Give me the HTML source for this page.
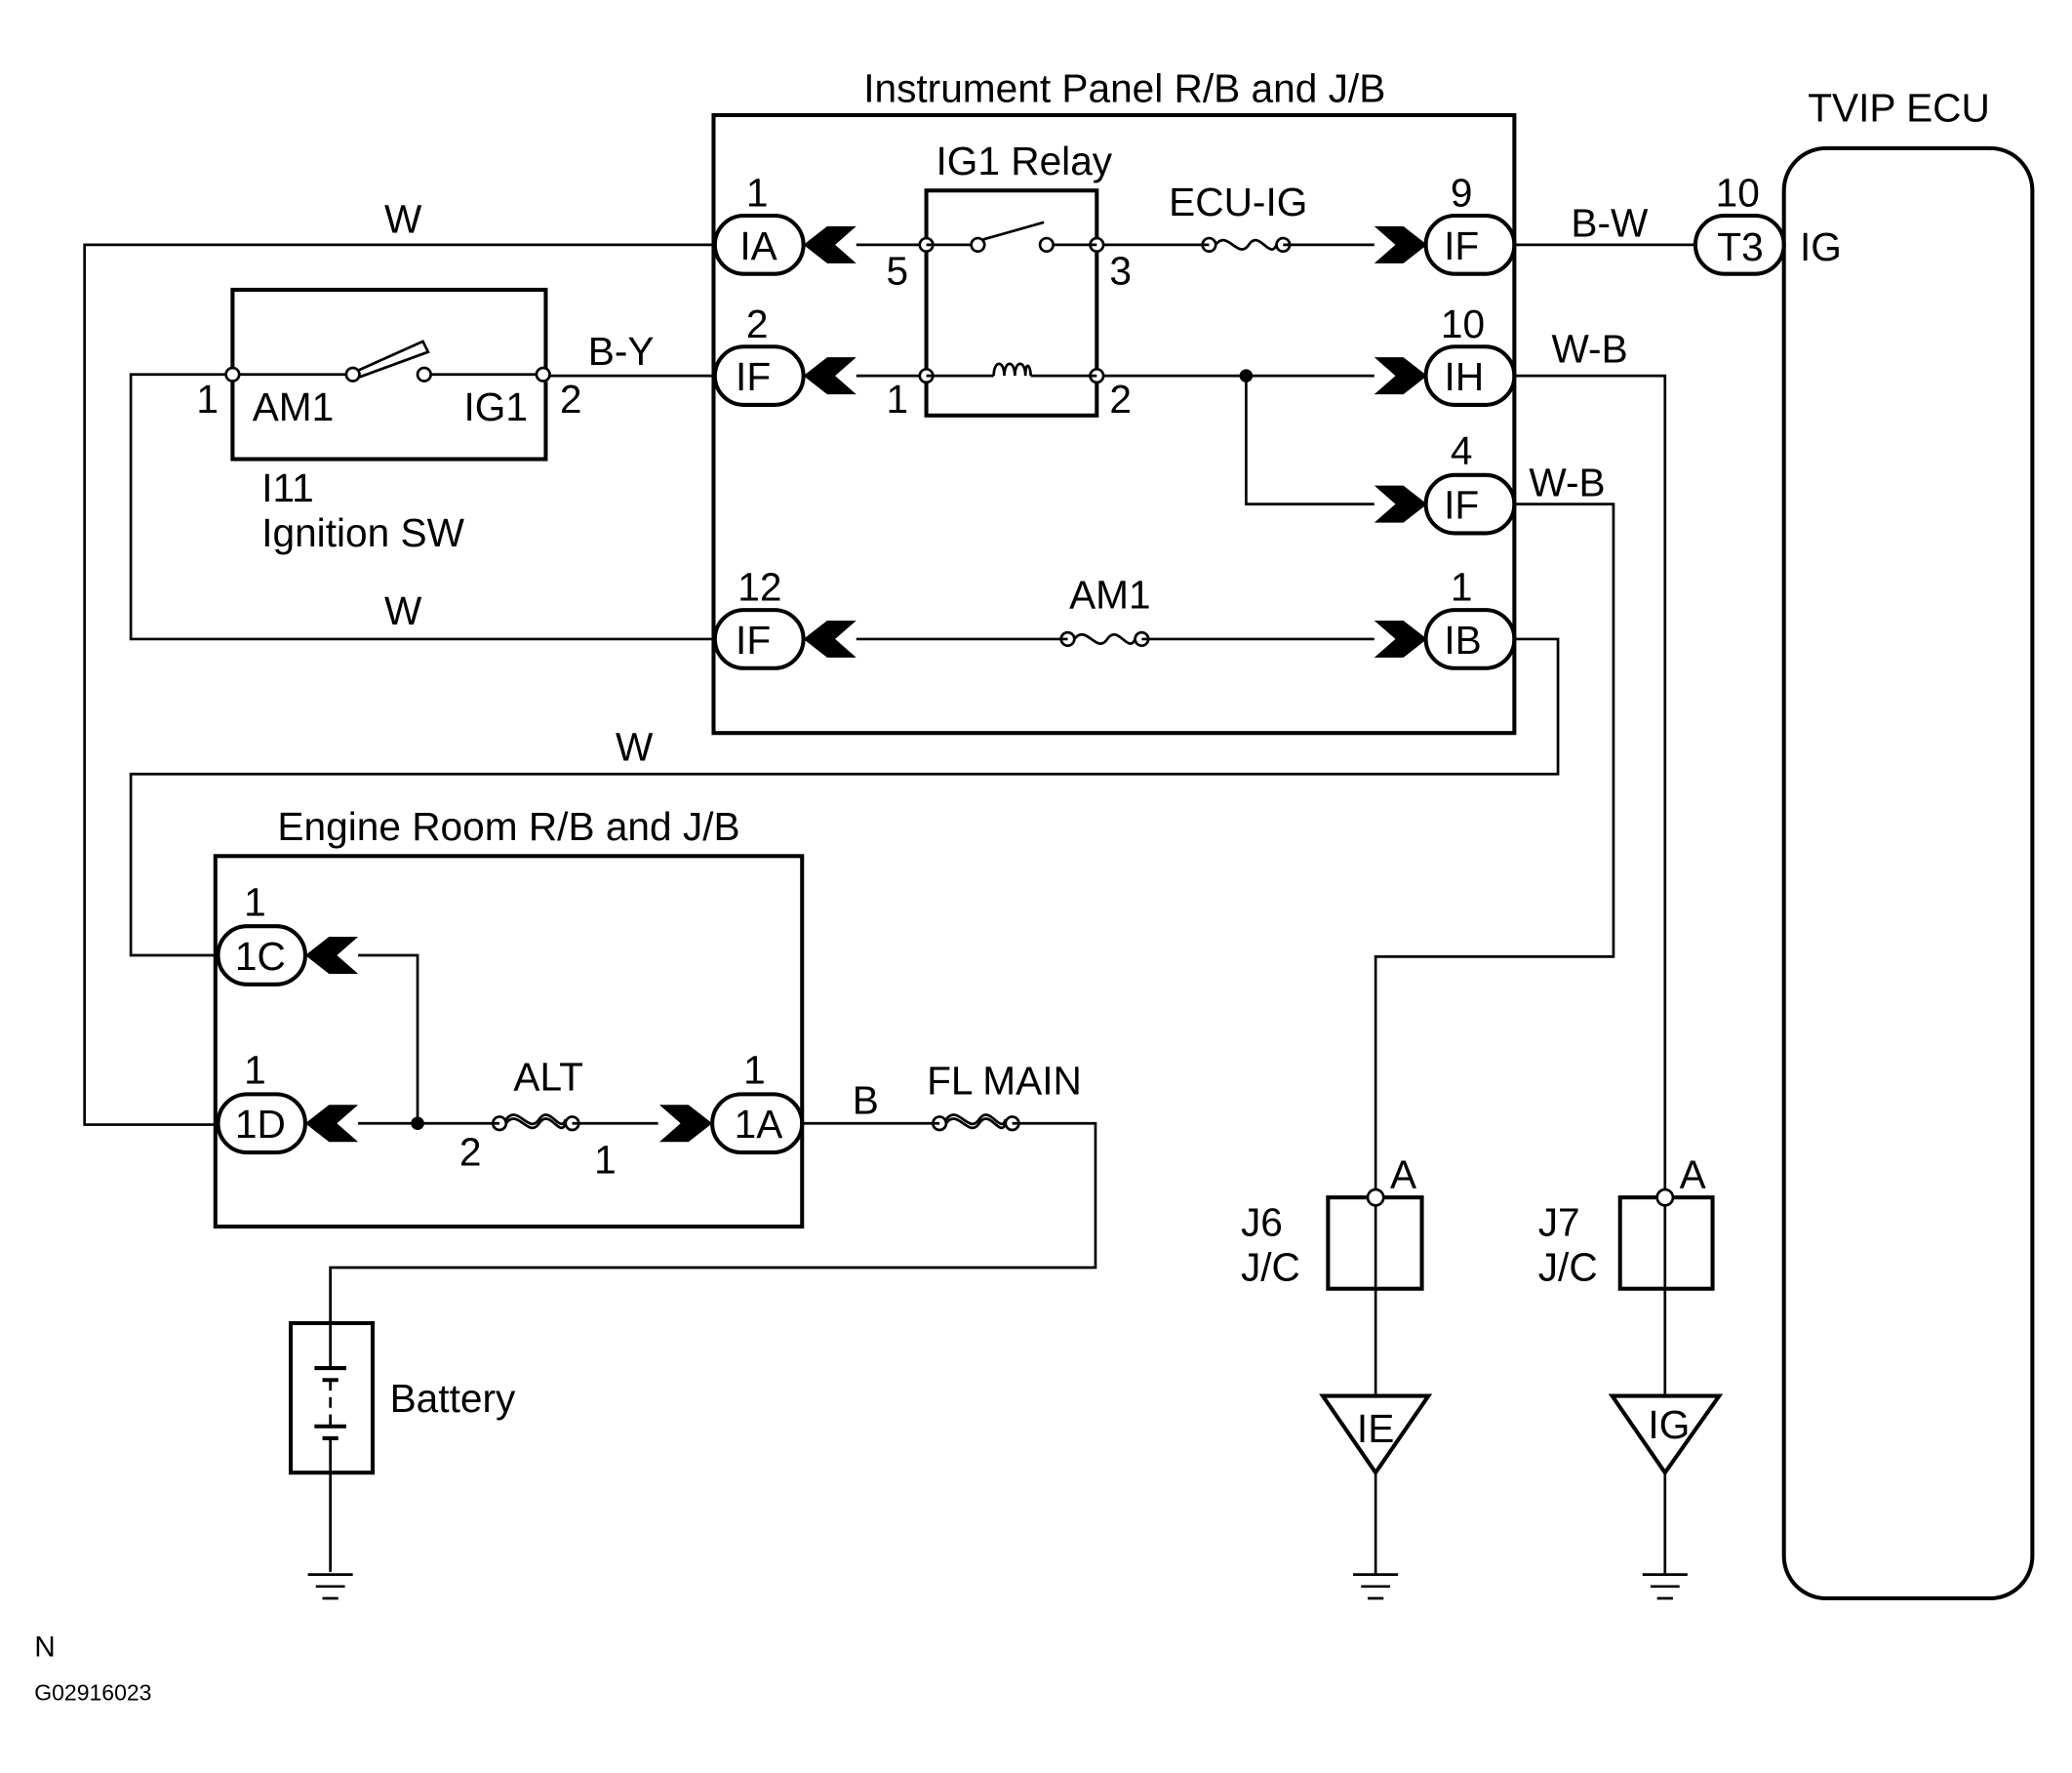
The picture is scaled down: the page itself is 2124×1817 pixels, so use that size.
<!DOCTYPE html>
<html><head><meta charset="utf-8"><style>
html,body{margin:0;padding:0;background:#fff;}
svg{display:block;}
text{font-family:"Liberation Sans",Arial,sans-serif;font-size:30px;fill:#000;}
</style></head><body>
<svg width="2124" height="1817" viewBox="0 0 1568 1340" preserveAspectRatio="none" xmlns="http://www.w3.org/2000/svg">
<defs>
<g id="chL"><polygon points="0,0 18,-14 40,-14 24,0 40,14 18,14" fill="#000"/></g>
<g id="chR"><polygon points="0,0 -18,-14 -40,-14 -24,0 -40,14 -18,14" fill="#000"/></g>
<g id="fuse" fill="none" stroke="#000" stroke-width="2"><circle cx="0" cy="0" r="5"/><path d="M5,0 C14,-12 22,12 30,0 C38,-12 46,12 51,0"/><circle cx="56" cy="0" r="5"/></g>
<g id="fuse2" fill="none" stroke="#000" stroke-width="2"><circle cx="0" cy="0" r="5"/><path d="M5,0 C14,-12 22,12 30,0 C38,-12 46,12 50,0 M5,-3 C14,-15 22,9 30,-3 C38,-15 46,9 50,-3"/><circle cx="55" cy="0" r="5"/></g>
<g id="gnd" stroke="#000" stroke-width="2"><line x1="-17" y1="0" x2="17" y2="0"/><line x1="-11" y1="9" x2="11" y2="9"/><line x1="-6" y1="18" x2="6" y2="18"/></g>
</defs>
<g fill="none" stroke="#000" stroke-width="2">
<polyline points="541,185 64,185 64,850 165,850"/>
<line x1="411" y1="284" x2="541" y2="284"/>
<polyline points="176,283 99,283 99,483 541,483"/>
<polyline points="1146,483 1179,483 1179,585 99,585 99,722 165,722"/>
<line x1="648" y1="185" x2="701" y2="185"/>
<line x1="648" y1="284" x2="701" y2="284"/>
<line x1="830" y1="185" x2="915" y2="185"/><line x1="971" y1="185" x2="1040" y2="185"/>
<line x1="830" y1="284" x2="1040" y2="284"/>
<polyline points="943,284 943,381 1040,381"/>
<line x1="648" y1="483" x2="808" y2="483"/><line x1="864" y1="483" x2="1040" y2="483"/>
<line x1="1146" y1="185" x2="1283" y2="185"/>
<polyline points="1146,284 1260,284 1260,905"/>
<polyline points="1146,381 1221,381 1221,723 1041,723 1041,905"/>
<polyline points="271,722 316,722 316,849"/>
<line x1="271" y1="849" x2="378" y2="849"/><line x1="433" y1="849" x2="498" y2="849"/>
<line x1="607" y1="849" x2="711" y2="849"/>
<polyline points="766,849 829,849 829,958 250,958 250,1000"/>
<line x1="250" y1="1113" x2="250" y2="1188"/>
<line x1="1041" y1="905" x2="1041" y2="1055"/><line x1="1041" y1="1113" x2="1041" y2="1190"/>
<line x1="1260" y1="905" x2="1260" y2="1055"/><line x1="1260" y1="1113" x2="1260" y2="1190"/>
</g>
<g fill="none" stroke="#000" stroke-width="3">
<rect x="540" y="87" width="606" height="467"/>
<rect x="1350" y="112" width="188" height="1096" rx="32"/>
<rect x="176" y="219" width="237" height="128"/>
<rect x="163" y="647" width="444" height="280"/>
<rect x="701" y="144" width="129" height="170"/>
<rect x="220" y="1000" width="62" height="113"/>
<rect x="1005" y="905" width="71" height="69"/>
<rect x="1226" y="905" width="70" height="69"/>
<polygon points="1001,1055 1081,1055 1041,1113"/>
<polygon points="1220,1055 1301,1055 1260,1113"/>
<rect x="541" y="163" width="67" height="44" rx="22"/>
<rect x="541" y="262" width="67" height="44" rx="22"/>
<rect x="541" y="461" width="67" height="44" rx="22"/>
<rect x="1079" y="163" width="67" height="44" rx="22"/>
<rect x="1079" y="262" width="67" height="44" rx="22"/>
<rect x="1079" y="359" width="67" height="44" rx="22"/>
<rect x="1079" y="461" width="67" height="44" rx="22"/>
<rect x="1283" y="163" width="67" height="44" rx="22"/>
<rect x="165" y="700" width="66" height="44" rx="22"/>
<rect x="165" y="827" width="66" height="44" rx="22"/>
<rect x="539" y="827" width="68" height="44" rx="22"/>
</g>
<g stroke="#000" stroke-width="3">
<line x1="238" y1="1034" x2="262" y2="1034"/><line x1="244" y1="1043" x2="256" y2="1043"/>
<line x1="238" y1="1078" x2="262" y2="1078"/><line x1="244" y1="1087" x2="256" y2="1087"/>
</g>
<g stroke="#000" stroke-width="2">
<line x1="250" y1="1000" x2="250" y2="1034"/><line x1="250" y1="1043" x2="250" y2="1078" stroke-dasharray="8,5"/><line x1="250" y1="1087" x2="250" y2="1113"/>
</g>
<use href="#chL" x="608" y="185"/><use href="#chL" x="608" y="284"/><use href="#chL" x="608" y="483"/>
<use href="#chR" x="1080" y="185"/><use href="#chR" x="1080" y="284"/><use href="#chR" x="1080" y="381"/><use href="#chR" x="1080" y="483"/>
<use href="#chL" x="231" y="722"/><use href="#chL" x="231" y="849"/><use href="#chR" x="539" y="849"/>
<use href="#fuse" x="915" y="185"/><use href="#fuse" x="808" y="483"/>
<use href="#fuse2" x="378" y="849"/><use href="#fuse2" x="711" y="849"/>
<g fill="#fff" stroke="#000" stroke-width="2">
<circle cx="701" cy="185" r="5"/><circle cx="830" cy="185" r="5"/><circle cx="701" cy="284" r="5"/><circle cx="830" cy="284" r="5"/>
<line x1="701" y1="185" x2="735" y2="185"/><line x1="797" y1="185" x2="830" y2="185"/>
<line x1="744" y1="181" x2="790" y2="168"/>
<circle cx="740" cy="185" r="5"/><circle cx="792" cy="185" r="5"/>
<line x1="701" y1="284" x2="752" y2="284"/><line x1="780" y1="284" x2="830" y2="284"/>
<path d="M752,284 c0,-12 8,-12 8,0 c0,-12 8,-12 8,0 c0,-12 8,-12 8,0 c0,-12 4,-8 4,0" fill="none"/>
<circle cx="176" cy="283" r="5"/><circle cx="411" cy="283" r="5"/>
<line x1="181" y1="283" x2="262" y2="283"/><line x1="326" y1="283" x2="406" y2="283"/>
<polygon points="271,280 320,258 324,266 272,285" fill="#fff"/>
<circle cx="267" cy="283" r="5"/><circle cx="321" cy="283" r="5"/>
<circle cx="1041" cy="905" r="6"/><circle cx="1260" cy="905" r="6"/>
</g>
<circle cx="943" cy="284" r="5" fill="#000"/><circle cx="316" cy="849" r="5" fill="#000"/>
<use href="#gnd" x="250" y="1190"/><use href="#gnd" x="1041" y="1190"/><use href="#gnd" x="1260" y="1190"/>
<g text-anchor="middle">
<text x="851" y="77">Instrument Panel R/B and J/B</text>
<text x="1437" y="92">TVIP ECU</text>
<text x="775" y="132">IG1 Relay</text>
<text x="937" y="163">ECU-IG</text>
<text x="840" y="460">AM1</text>
<text x="574" y="196">IA</text><text x="570" y="295">IF</text><text x="570" y="494">IF</text>
<text x="1106" y="196">IF</text><text x="1108" y="295">IH</text><text x="1106" y="392">IF</text><text x="1107" y="494">IB</text>
<text x="1317" y="197">T3</text>
<text x="197" y="733">1C</text><text x="197" y="860">1D</text><text x="574" y="860">1A</text>
<text x="573" y="156">1</text><text x="573" y="255">2</text><text x="575" y="454">12</text>
<text x="1106" y="156">9</text><text x="1107" y="255">10</text><text x="1106" y="351">4</text><text x="1106" y="454">1</text>
<text x="1315" y="156">10</text>
<text x="679" y="215">5</text><text x="848" y="215">3</text><text x="679" y="312">1</text><text x="848" y="312">2</text>
<text x="305" y="176">W</text><text x="305" y="472">W</text><text x="480" y="575">W</text>
<text x="470" y="276">B-Y</text>
<text x="1218" y="179">B-W</text><text x="1203" y="274">W-B</text><text x="1186" y="375">W-B</text>
<text x="157" y="312">1</text><text x="432" y="312">2</text>
<text x="385" y="635">Engine Room R/B and J/B</text>
<text x="193" y="692">1</text><text x="193" y="819">1</text><text x="571" y="819">1</text>
<text x="415" y="824">ALT</text><text x="356" y="881">2</text><text x="458" y="887">1</text>
<text x="655" y="842">B</text><text x="760" y="827">FL MAIN</text>
<text x="1062" y="898">A</text><text x="1281" y="898">A</text>
<text x="1041" y="1090">IE</text><text x="1263" y="1087">IG</text>
</g>
<text x="191" y="318">AM1</text><text x="351" y="318">IG1</text>
<text x="198" y="379">I11</text><text x="198" y="413">Ignition SW</text>
<text x="1362" y="197">IG</text>
<text x="295" y="1067">Battery</text>
<text x="939" y="934">J6</text><text x="939" y="968">J/C</text>
<text x="1164" y="934">J7</text><text x="1164" y="968">J/C</text>
<text x="26" y="1252" style="font-size:22px">N</text>
<text x="26" y="1285" style="font-size:17px">G02916023</text>
</svg>
</body></html>
